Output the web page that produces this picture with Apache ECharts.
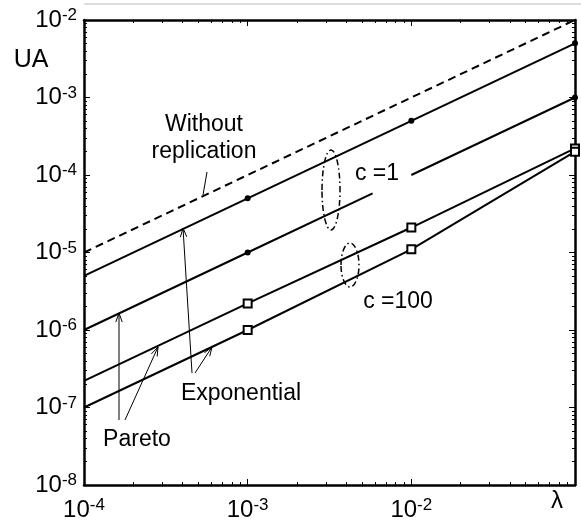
<!DOCTYPE html>
<html><head><meta charset="utf-8">
<script src="https://cdn.jsdelivr.net/npm/echarts@6/dist/echarts.min.js"></script>
<style>html,body{margin:0;padding:0;background:#fff}#c{width:581px;height:520px}</style>
</head><body><div id="c"></div>
<script>
// ---- data ----
const lambdaVals = [1e-4, 1e-3, 1e-2, 1e-1];
const withoutReplication = [1e-5, 1e-4, 1e-3, 1e-2];
const exponentialC1 = [5e-6, 5e-5, 5e-4, 5e-3];
const exponentialC1Marks = [false, true, true, true];
const paretoC1LeftLambda = [1e-4, 1e-3, 5.8e-3];
const paretoC1Left = [1e-6, 1e-5, 5.8e-5];
const paretoC1LeftMarks = [false, true, false];
const paretoC1RightLambda = [1e-2, 1e-1];
const paretoC1Right = [1e-4, 1e-3];
const paretoC1RightMarks = [false, true];
const paretoC100 = [2.2e-7, 2.2e-6, 2.1e-5, 2.2e-4];
const exponentialC100 = [1e-7, 1e-6, 1.1e-5, 2.0e-4];
const c100Marks = [false, true, true, true];
const xTickExps = [-4, -3, -2];
const yTickExps = [-8, -7, -6, -5, -4, -3, -2];

const FONT = '"Liberation Sans", Arial, sans-serif';

function pts(xs, ys, marks) {
  return xs.map((x, i) => {
    const it = { value: [x, ys[i]] };
    if (!marks[i]) it.symbol = 'none';
    return it;
  });
}
function fmt(exps) {
  return function (v) {
    const e = Math.round(Math.log10(v));
    return exps.indexOf(e) >= 0 ? '{b|10}{s|' + e + '}' : '';
  };
}
const rich = {
  b: { fontSize: 24, lineHeight: 26, fontFamily: FONT, color: '#000' },
  s: { fontSize: 17, lineHeight: 14, verticalAlign: 'top', fontFamily: FONT, color: '#000' }
};
function axis(kind, pos, showLabel, min, max, exps) {
  return {
    type: 'log', logBase: 10, min: min, max: max, position: pos,
    axisLine: { show: true, onZero: false, lineStyle: { color: '#000', width: 2.5 } },
    axisTick: { show: true, inside: true, length: 6, lineStyle: { color: '#000', width: 1 } },
    minorTick: { show: true, splitNumber: 9, length: 3, lineStyle: { color: '#000', width: 1 } },
    splitLine: { show: false }, minorSplitLine: { show: false },
    axisLabel: { show: showLabel, formatter: fmt(exps), rich: rich,
      margin: kind === 'x' ? 12 : 7, showMinLabel: true, showMaxLabel: true }
  };
}
const black = '#000';
function lineSeries(data, opts) {
  return Object.assign({
    type: 'line', data: data, showAllSymbol: true, animation: false,
    lineStyle: { color: black, width: 2 },
    itemStyle: { color: black }, symbol: 'circle', symbolSize: 6, z: 3
  }, opts);
}
const sq = { symbol: 'rect', symbolSize: 8, itemStyle: { color: '#fff', borderColor: black, borderWidth: 2 }, z: 4 };

function arrow(x1, y1, x2, y2) {
  const a = Math.atan2(y2 - y1, x2 - x1), L = 9, W = 3.2;
  const bx = x2 - L * Math.cos(a), by = y2 - L * Math.sin(a);
  const px = -Math.sin(a) * W, py = Math.cos(a) * W;
  return [
    { type: 'line', shape: { x1: x1, y1: y1, x2: x2, y2: y2 }, style: { stroke: black, lineWidth: 1 }, z: 10 },
    { type: 'polyline', shape: { points: [[bx + px, by + py], [x2, y2], [bx - px, by - py]] }, style: { stroke: black, fill: 'none', lineWidth: 1 }, z: 10 }
  ];
}
function txt(t, x, y, size) {
  return { type: 'text', x: x, y: y, z: 10,
    style: { text: t, font: size + 'px ' + FONT, fill: black, align: 'center', verticalAlign: 'middle', textAlign: 'center', textVerticalAlign: 'middle' } };
}

const graphics = [].concat(
  [{ type: 'line', shape: { x1: 84, y1: 4, x2: 581, y2: 4 }, style: { stroke: '#bbb', lineWidth: 1 } }],
  [txt('UA', 31, 60, 25), txt('λ', 557, 501, 24)],
  [txt('Without', 204, 125, 23), txt('replication', 204, 152, 23)],
  [{ type: 'line', shape: { x1: 207, y1: 172, x2: 203, y2: 195 }, style: { stroke: black, lineWidth: 1 }, z: 10 }],
  [txt('c =1', 377, 174, 23), txt('c =100', 398, 302, 23)],
  [txt('Exponential', 241, 394, 23), txt('Pareto', 137, 440, 23)],
  [{ type: 'ellipse', shape: { cx: 331, cy: 190, rx: 9, ry: 40 }, style: { fill: 'none', stroke: black, lineWidth: 1.5, lineDash: [6, 3, 1.5, 3] }, z: 10 }],
  [{ type: 'ellipse', shape: { cx: 350, cy: 265, rx: 9, ry: 22 }, style: { fill: 'none', stroke: black, lineWidth: 1.5, lineDash: [6, 3, 1.5, 3] }, z: 10 }],
  arrow(192, 373, 183, 228),
  arrow(195, 373, 212, 347),
  arrow(119, 420, 119, 313),
  arrow(125, 420, 158, 347)
);

const chart = echarts.init(document.getElementById('c'), null, { renderer: 'canvas' });
chart.setOption({
  animation: false,
  backgroundColor: '#fff',
  textStyle: { fontFamily: FONT },
  grid: { left: 84, right: 6, top: 20, bottom: 35, containLabel: false, outerBoundsMode: 'none' },
  xAxis: [
    axis('x', 'bottom', true, 1e-4, 1e-1, xTickExps),
    axis('x', 'top', false, 1e-4, 1e-1, xTickExps)
  ],
  yAxis: [
    axis('y', 'left', true, 1e-8, 1e-2, yTickExps),
    axis('y', 'right', false, 1e-8, 1e-2, yTickExps)
  ],
  series: [
    lineSeries(pts(lambdaVals, withoutReplication, [false, false, false, false]),
      { name: 'Without replication', lineStyle: { color: black, width: 2, type: [8, 5] }, z: 2 }),
    lineSeries(pts(lambdaVals, exponentialC1, exponentialC1Marks), { name: 'Exponential c=1' }),
    lineSeries(pts(paretoC1LeftLambda, paretoC1Left, paretoC1LeftMarks), { name: 'Pareto c=1' }),
    lineSeries(pts(paretoC1RightLambda, paretoC1Right, paretoC1RightMarks), { name: 'Pareto c=1' }),
    lineSeries(pts(lambdaVals, paretoC100, c100Marks), Object.assign({ name: 'Pareto c=100' }, sq)),
    lineSeries(pts(lambdaVals, exponentialC100, c100Marks), Object.assign({ name: 'Exponential c=100' }, sq))
  ],
  graphic: graphics
});
</script></body></html>
